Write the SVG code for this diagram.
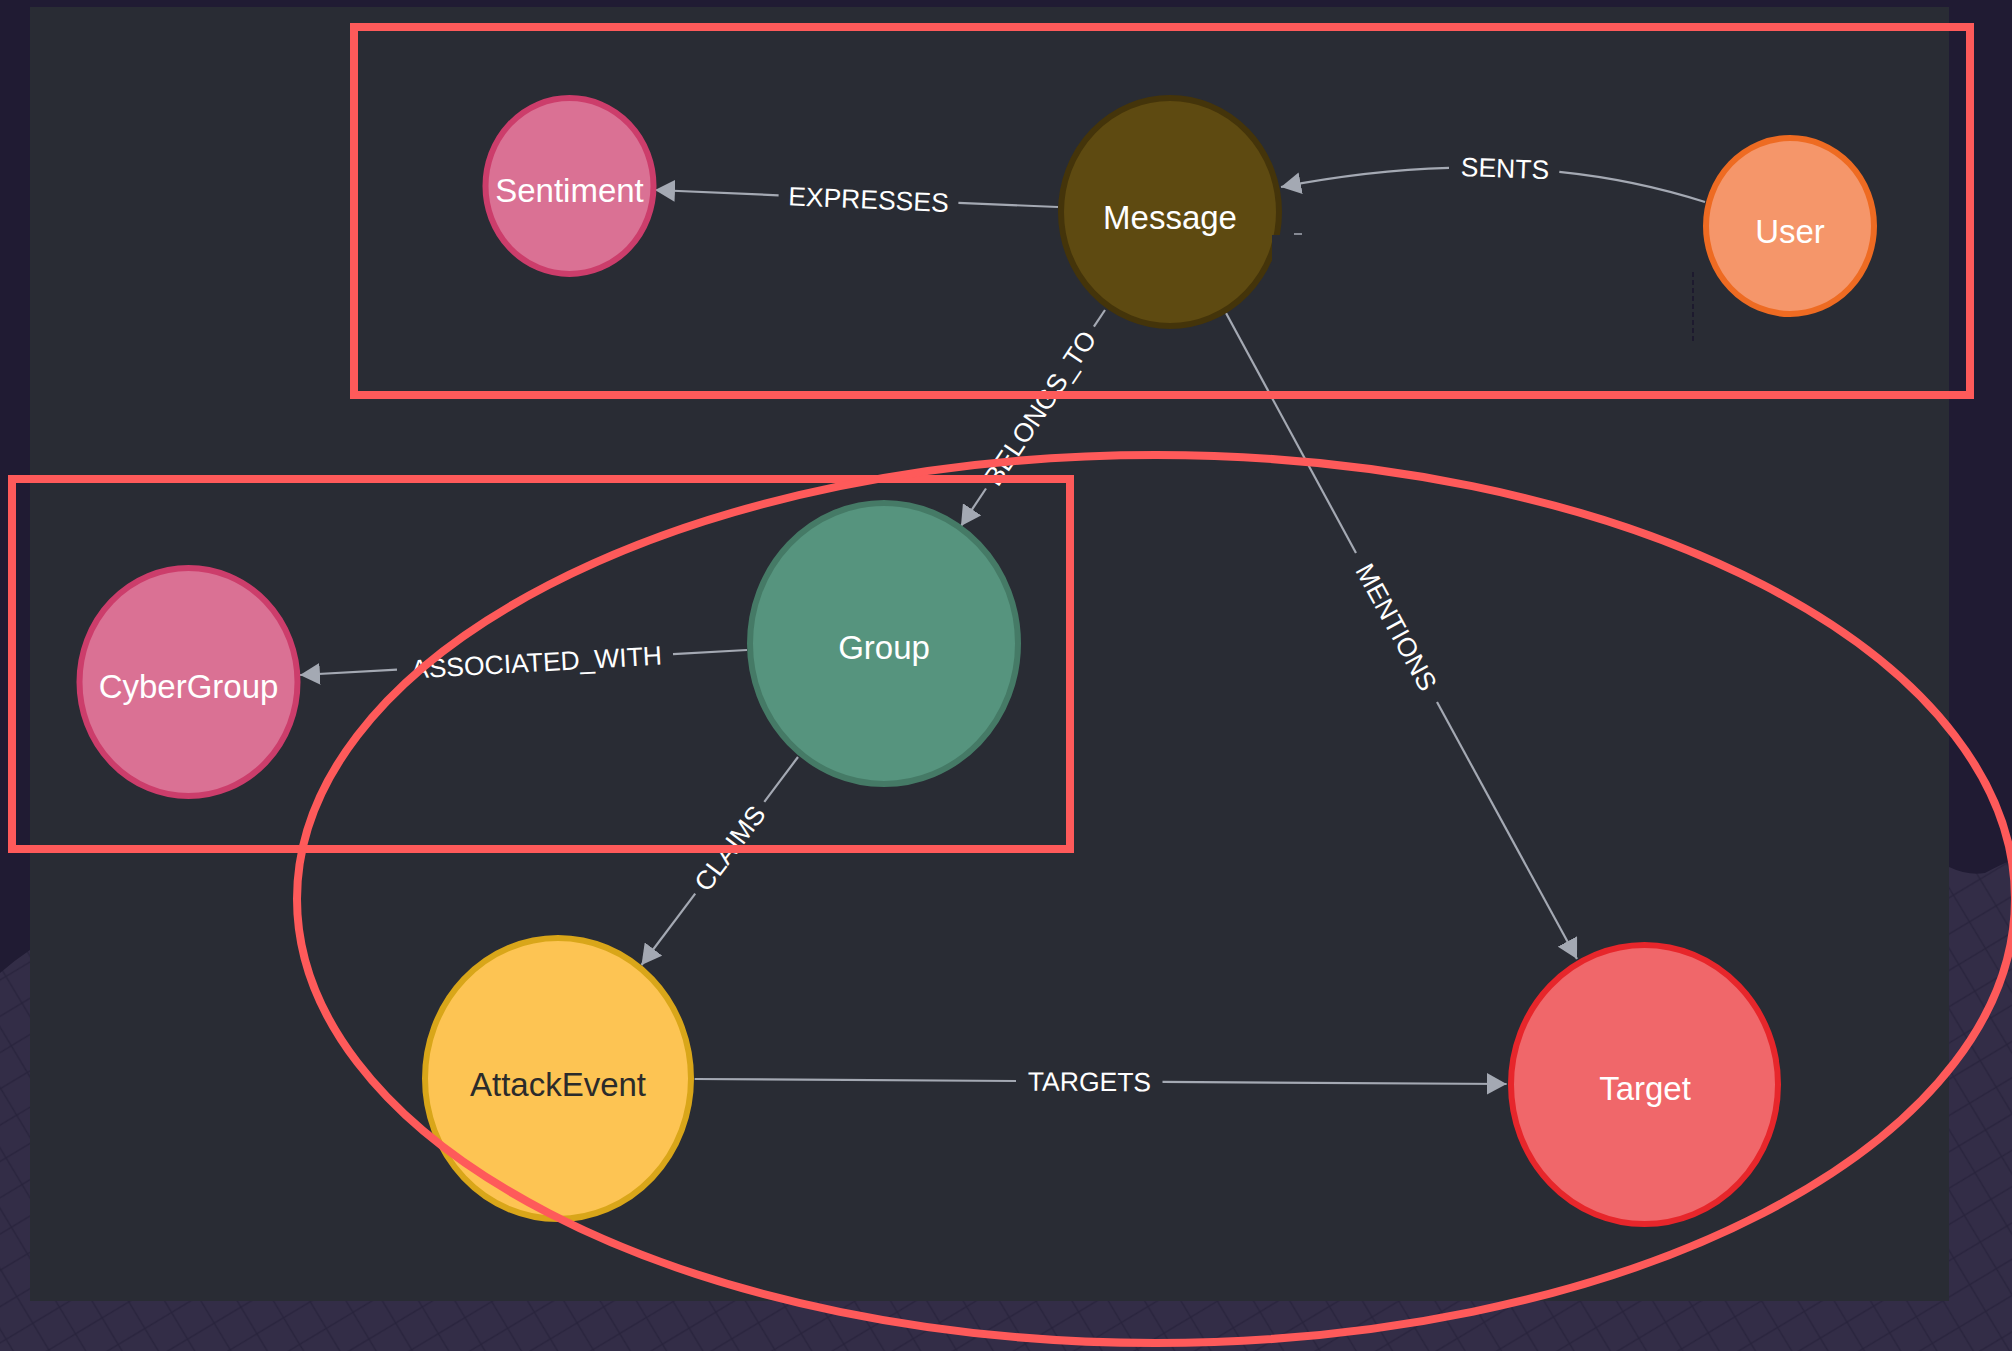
<svg xmlns="http://www.w3.org/2000/svg" width="2012" height="1351" viewBox="0 0 2012 1351">
  <style>
    .edge { fill: none; stroke: #a4a9b3; stroke-width: 2.2; }
    .elabel { font-family: "Liberation Sans", Arial, sans-serif; font-size: 26.5px; fill: #ffffff; text-anchor: middle; }
    .nlabel { font-family: "Liberation Sans", Arial, sans-serif; font-size: 33px; fill: #ffffff; text-anchor: middle; }
    .annot { fill: none; stroke: #fe5a5a; stroke-width: 8; }
    .node { stroke-width: 6; }
  </style>
  <defs>
    <marker id="arr" viewBox="0 0 20 22" refX="20" refY="11" markerWidth="20" markerHeight="22" orient="auto" markerUnits="userSpaceOnUse">
      <path d="M0,0 L20,11 L0,22 Z" fill="#a4a9b3"/>
    </marker>
    <pattern id="mesh" width="44" height="44" patternUnits="userSpaceOnUse" patternTransform="rotate(14)">
      <rect width="44" height="44" fill="#332d47"/>
      <path d="M0,0 L44,44 M44,0 L0,44" stroke="#29243d" stroke-width="1.4" fill="none"/>
    </pattern>
  </defs>

  <!-- background -->
  <rect x="0" y="0" width="2012" height="1351" fill="#201b33"/>
  <path d="M0,973 Q15,960 30,950 L30,1301 L1949,1301 L1949,867 Q1968,876 1985,873 Q2000,865 2012,860 L2012,1351 L0,1351 Z" fill="url(#mesh)"/>
  <rect x="30" y="7" width="1919" height="1294" fill="#292c34"/>

  <!-- connectors -->
  <g id="connectors">
    <g id="edge-expresses">
      <path class="edge" d="M1058,207 L958.4,202.8"/>
      <path class="edge" d="M778.6,195.3 L655,190" marker-end="url(#arr)"/>
      <text class="elabel" x="868.5" y="199" dy="0.36em" transform="rotate(2.4 868.5 199)">EXPRESSES</text>
    </g>
    <g id="edge-sents">
      <path class="edge" d="M1705,202 Q1635.4,179.6 1559.3,171.8"/>
      <path class="edge" d="M1449,167.9 Q1368.3,170.2 1281,187" marker-end="url(#arr)"/>
      <text class="elabel" x="1505" y="168" dy="0.36em" transform="rotate(2 1505 168)">SENTS</text>
    </g>
    <g id="edge-belongs">
      <path class="edge" d="M1105,310 L1093.9,326.6"/>
      <path class="edge" d="M986,488.5 L961,526" marker-end="url(#arr)"/>
      <text class="elabel" x="1039.8" y="407.8" dy="0.36em" transform="rotate(-56.3 1039.8 407.8)">BELONGS_TO</text>
    </g>
    <g id="edge-mentions">
      <path class="edge" d="M1226,313 L1356,553"/>
      <path class="edge" d="M1437,702 L1577,959" marker-end="url(#arr)"/>
      <text class="elabel" x="1396.6" y="627" dy="0.36em" transform="rotate(61.5 1396.6 627)">MENTIONS</text>
    </g>
    <g id="edge-associated">
      <path class="edge" d="M747,650 L673,654.1"/>
      <path class="edge" d="M397,669.6 L300,675" marker-end="url(#arr)"/>
      <text class="elabel" x="536.5" y="662" dy="0.36em" transform="rotate(-3.2 536.5 662)">ASSOCIATED_WITH</text>
    </g>
    <g id="edge-claims">
      <path class="edge" d="M798,757 L764.3,801.8"/>
      <path class="edge" d="M695.2,893.6 L641.5,965" marker-end="url(#arr)"/>
      <text class="elabel" x="729.5" y="848" dy="0.36em" transform="rotate(-53 729.5 848)">CLAIMS</text>
    </g>
    <g id="edge-targets">
      <path class="edge" d="M694.6,1079 L1016,1081"/>
      <path class="edge" d="M1162.5,1081.9 L1506.6,1084" marker-end="url(#arr)"/>
      <text class="elabel" x="1089.5" y="1081.5" dy="0.36em" transform="rotate(0.35 1089.5 1081.5)">TARGETS</text>
    </g>
  </g>

  <!-- nodes -->
  <g id="node-sentiment">
    <ellipse class="node" cx="569.5" cy="186" rx="84" ry="88" fill="#da7194" stroke="#cc3d6b"/>
    <text class="nlabel" x="569.5" y="202">Sentiment</text>
  </g>
  <g id="node-message">
    <ellipse class="node" cx="1170" cy="212" rx="109" ry="114" fill="#5e4a11" stroke="#44340a"/>
    <text class="nlabel" x="1170" y="229">Message</text>
  </g>
  <g id="node-user">
    <ellipse class="node" cx="1790" cy="226" rx="84" ry="88" fill="#f5966a" stroke="#ee6b22"/>
    <text class="nlabel" x="1790" y="243">User</text>
  </g>
  <g id="node-cybergroup">
    <ellipse class="node" cx="188.5" cy="682" rx="109" ry="114" fill="#da7194" stroke="#cc3d6b"/>
    <text class="nlabel" x="188.5" y="698">CyberGroup</text>
  </g>
  <g id="node-group">
    <ellipse class="node" cx="884" cy="643.5" rx="134" ry="140.5" fill="#56947e" stroke="#457a66"/>
    <text class="nlabel" x="884" y="659">Group</text>
  </g>
  <g id="node-attackevent">
    <ellipse class="node" cx="558" cy="1078.5" rx="133" ry="140.5" fill="#fdc453" stroke="#d9a619"/>
    <text class="nlabel" x="558" y="1096" style="fill:#2b2b2b">AttackEvent</text>
  </g>
  <g id="node-target">
    <ellipse class="node" cx="1644.5" cy="1084.5" rx="133.5" ry="139.5" fill="#f0676a" stroke="#e7262b"/>
    <text class="nlabel" x="1645" y="1100">Target</text>
  </g>

  <!-- small artifacts -->
  <rect x="1272" y="235" width="16" height="30" fill="#292c34"/>
  <line x1="1294" y1="234" x2="1302" y2="234" stroke="#a4a9b3" stroke-width="1.5"/>
  <line x1="1693" y1="272" x2="1693" y2="342" stroke="#1d1a2e" stroke-width="2" stroke-dasharray="5 3"/>

  <!-- annotations -->
  <g id="annotations">
    <rect class="annot" x="354" y="27" width="1616" height="368"/>
    <rect class="annot" x="12" y="479" width="1058" height="370"/>
    <ellipse class="annot" cx="1156" cy="899" rx="859" ry="444"/>
  </g>
</svg>
